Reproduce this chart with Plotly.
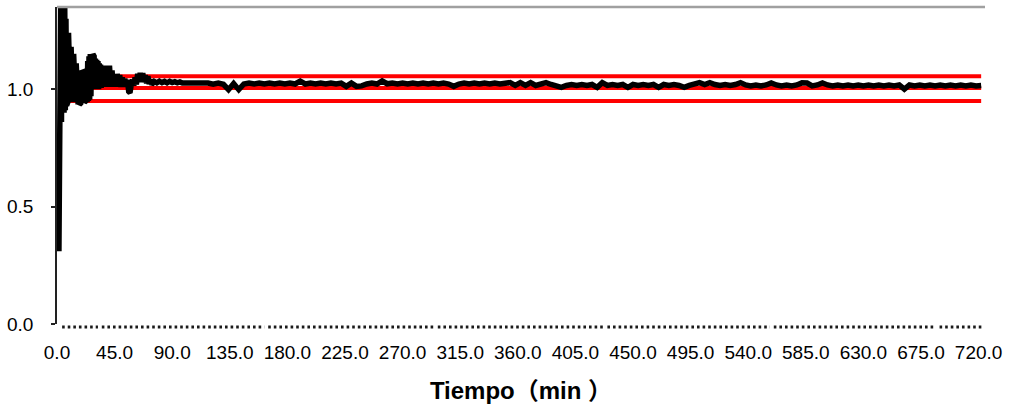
import plotly.graph_objects as go

# ---- data -------------------------------------------------------------
# Ratio measured over time (min); sampling becomes coarser once it settles.
t_start = [1.5 + 0.5 * k for k in range(68)]        # 1.5 .. 35.0
ratio_start = [
    0.31, 1.45, 0.33, 1.45, 0.86, 1.45, 0.89, 1.42, 0.90, 1.40,
    0.91, 1.30, 0.93, 1.28, 0.945, 1.24, 0.95, 1.23, 0.945, 1.18,
    0.95, 1.16, 0.945, 1.15, 0.95, 1.12, 0.945, 1.11, 0.94, 1.09,
    0.935, 1.08, 0.935, 1.075, 0.94, 1.07, 0.945, 1.072, 0.94, 1.07,
    0.945, 1.065, 0.95, 1.07, 0.945, 1.12, 0.95, 1.14, 0.955, 1.15,
    0.97, 1.15, 1.00, 1.15, 1.00, 1.14, 1.01, 1.13, 1.00, 1.125,
    1.01, 1.12, 1.00, 1.11, 1.01, 1.105, 1.005, 1.10,
]

t_mid = list(range(36, 75))                          # 36 .. 74
ratio_mid = [
    1.01, 1.10, 1.01, 1.095, 1.015, 1.10, 1.01, 1.08, 1.01, 1.065,
    1.01, 1.065, 1.015, 1.06, 1.01, 1.05, 1.01, 1.045, 1.01, 1.04,
    0.99, 0.985, 1.02, 1.04, 1.015, 1.05, 1.02, 1.065, 1.03, 1.07,
    1.03, 1.068, 1.03, 1.06, 1.025, 1.055, 1.022, 1.042, 1.02,
]

t_settle = list(range(76, 99, 2))                    # 76 .. 98
ratio_settle = [
    1.033, 1.027, 1.034, 1.028, 1.033, 1.027, 1.033, 1.028, 1.032, 1.027,
    1.031, 1.026,
]

t_steady = list(range(102, 723, 4))                  # 102 .. 722
ratio_steady = [
    1.026, 1.022, 1.027, 1.022, 1.026, 1.021, 1.026, 1.021, 0.998, 1.024,
    0.998, 1.022, 1.026, 1.022, 1.026, 1.022, 1.026, 1.022, 1.026, 1.022,
    1.026, 1.022, 1.034, 1.022, 1.026, 1.022, 1.026, 1.022, 1.026, 1.022,
    1.026, 1.012, 1.026, 1.012, 1.014, 1.022, 1.026, 1.022, 1.035, 1.023,
    1.026, 1.022, 1.026, 1.022, 1.026, 1.022, 1.026, 1.022, 1.026, 1.022,
    1.026, 1.022, 1.012, 1.022, 1.026, 1.022, 1.026, 1.022, 1.026, 1.022,
    1.026, 1.022, 1.024, 1.028, 1.016, 1.028, 1.016, 1.028, 1.016, 1.020,
    1.028, 1.020, 1.016, 1.008, 1.016, 1.020, 1.016, 1.020, 1.016, 1.020,
    1.008, 1.028, 1.016, 1.020, 1.016, 1.020, 1.008, 1.020, 1.016, 1.020,
    1.016, 1.020, 1.008, 1.020, 1.016, 1.020, 1.016, 1.008, 1.016, 1.020,
    1.028, 1.020, 1.028, 1.020, 1.016, 1.020, 1.016, 1.020, 1.028, 1.018,
    1.014, 1.018, 1.014, 1.018, 1.027, 1.018, 1.014, 1.018, 1.014, 1.018,
    1.027, 1.026, 1.014, 1.018, 1.027, 1.018, 1.014, 1.018, 1.014, 1.018,
    1.014, 1.018, 1.014, 1.018, 1.014, 1.018, 1.014, 1.018, 1.014, 1.018,
    1.000, 1.018, 1.014, 1.018, 1.014, 1.018, 1.014, 1.018, 1.014, 1.018,
    1.014, 1.018, 1.014, 1.018, 1.014, 1.016,
]

# Reference limits (upper, centre, lower) and the span they cover
limit_values = [1.055, 1.005, 0.95]
limit_span = [7, 722]

x_range = [0, 725]
x_ticks = [0, 45, 90, 135, 180, 225, 270, 315, 360, 405, 450, 495, 540,
           585, 630, 675, 720]
y_ticks = [0.0, 0.5, 1.0]

# ---- assemble ---------------------------------------------------------
segments = [(t_start, ratio_start), (t_mid, ratio_mid),
            (t_settle, ratio_settle), (t_steady, ratio_steady)]
time, ratio = [], []
for ts, rs in segments:
    assert len(ts) == len(rs), (len(ts), len(rs))
    time += ts
    ratio += rs

fig = go.Figure()

for v in limit_values:
    fig.add_trace(go.Scatter(
        x=limit_span, y=[v, v], mode="lines",
        line=dict(color="#ff0000", width=4), hoverinfo="skip",
        showlegend=False))

fig.add_trace(go.Scatter(
    x=time, y=ratio, mode="lines",
    line=dict(color="#000000", width=5.5), showlegend=False))

# dotted baseline just under y = 0, broken into runs
dot_runs = [(4, 32), (35, 162), (165, 294.5), (297.5, 427), (430, 557),
            (560, 686.5), (689.5, 723)]
span = x_range[1] - x_range[0]
for a, b in dot_runs:
    fig.add_shape(type="line", xref="paper", yref="paper", ysizemode="pixel",
                  yanchor=0, x0=(a - x_range[0]) / span,
                  x1=(b - x_range[0]) / span, y0=-3, y1=-3,
                  line=dict(color="#1a1a1a", width=3, dash="2.6px,3px"))

# grey frame line along the top of the plot area
fig.add_shape(type="line", xref="paper", yref="paper", x0=0, x1=1,
              y0=1, y1=1, line=dict(color="#a0a0a0", width=2.5))

tick_font = dict(family="Liberation Sans, Arial", size=19, color="#000000")

fig.update_layout(
    width=1009, height=408,
    margin=dict(l=55, r=24, t=7, b=84),
    paper_bgcolor="white", plot_bgcolor="white",
    xaxis=dict(
        range=x_range, tickmode="array", tickvals=x_ticks,
        ticktext=[f"{v:.1f}" for v in x_ticks], tickangle=0,
        showgrid=False, zeroline=False, showline=False, ticks="",
        tickfont=tick_font, ticklabelstandoff=15,
        title=dict(text="Tiempo（min ）", standoff=20,
                   font=dict(family="Liberation Sans, Noto Sans CJK SC",
                             size=24, color="#000000", weight="bold")),
    ),
    yaxis=dict(
        range=[0, 1.35], tickmode="array", tickvals=y_ticks,
        ticktext=[f"{v:.1f}" for v in y_ticks],
        showgrid=False, zeroline=False, showline=True,
        linecolor="#222222", linewidth=1.5,
        ticks="outside", ticklen=4, tickcolor="#222222", tickwidth=1.5,
        tickfont=tick_font, ticklabelstandoff=14,
    ),
)

fig.write_html("out.html")
